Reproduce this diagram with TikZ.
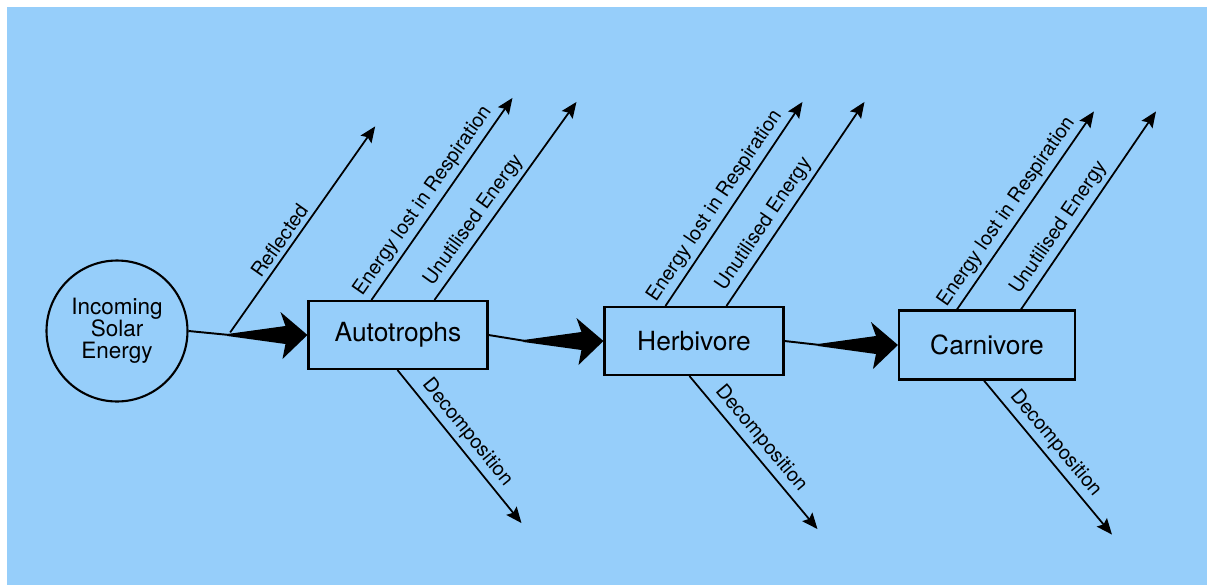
\documentclass[tikz,border=0pt]{standalone}
\usepackage{fontspec}
\setmainfont{TeX Gyre Heros}
\usetikzlibrary{calc,arrows.meta}
\definecolor{skyblue}{HTML}{96CEFA}

\tikzset{
  trophic/.style={draw, line width=1.2pt, minimum width=3.58cm, minimum height=1.36cm,
    font=\fontsize{15}{17}\selectfont},
  lossarrow/.style={line width=1pt, -{Stealth[length=9pt,width=7.5pt,inset=1.5pt]}},
  losslabel/.style={sloped, above, inner sep=2.5pt, font=\fontsize{11.3}{13}\selectfont},
}

% thin line that swells into a fat arrow head at the target
\newcommand{\fatarrow}[2]{%
  \draw[line width=1.1pt] (#1) -- ($(#2)+(-78,0)$);
  \fill ($(#2)+(-80,-1)$) -- ($(#2)+(-22,-9)$) -- ($(#2)+(-27,-23)$) -- (#2)
    -- ($(#2)+(-25,24)$) -- ($(#2)+(-22,9)$) -- ($(#2)+(-80,1)$) -- cycle;
}

\begin{document}
\begin{tikzpicture}[x=0.02cm, y=-0.02cm]
    \fill[white] (0,0) rectangle (1211,585);
    \fill[skyblue] (7,7) rectangle (1207,585);
    \useasboundingbox (0,0) rectangle (1211,585);

    \node[draw, circle, line width=1.2pt, minimum size=2.82cm, align=center,
      font=\fontsize{12.8}{12.5}\selectfont] (sun) at (117,331) {Incoming\\Solar\\Energy};
    \node[trophic] (auto) at (398,335) {Autotrophs};
    \node[trophic] (herb) at (694,341) {Herbivore};
    \node[trophic, minimum width=3.52cm, minimum height=1.38cm] (carn) at (987,345) {Carnivore};

    % main flow
    \fatarrow{sun.east}{auto.west}
    \fatarrow{auto.east}{herb.west}
    \fatarrow{herb.east}{carn.west}

    % reflected light
    \draw[lossarrow] ($(sun.east)!0.35!(auto.west)$) -- +(145,-206)
      node[losslabel, pos=0.41] {Reflected};

    % losses at each level
    \draw[lossarrow] ($(auto.north west)+(64,0)$) -- +(141,-202)
      node[losslabel, pos=0.45] {Energy lost in Respiration};
    \draw[lossarrow] ($(auto.north west)+(127,0)$) -- +(142,-198)
      node[losslabel, pos=0.36] {Unutilised Energy};
    \draw[lossarrow] ($(auto.south west)+(90,0)$) -- +(124,153)
      node[losslabel, pos=0.47] {Decomposition};

    \draw[lossarrow] ($(herb.north west)+(62,0)$) -- +(137,-204)
      node[losslabel, pos=0.45] {Energy lost in Respiration};
    \draw[lossarrow] ($(herb.north west)+(123,0)$) -- +(138,-204)
      node[losslabel, pos=0.36] {Unutilised Energy};
    \draw[lossarrow] ($(herb.south west)+(86,0)$) -- +(128,153)
      node[losslabel, pos=0.47] {Decomposition};

    \draw[lossarrow] ($(carn.north west)+(59,0)$) -- +(137,-198)
      node[losslabel, pos=0.45] {Energy lost in Respiration};
    \draw[lossarrow] ($(carn.north west)+(123,0)$) -- +(135,-198)
      node[losslabel, pos=0.37] {Unutilised Energy};
    \draw[lossarrow] ($(carn.south west)+(86,0)$) -- +(128,154)
      node[losslabel, pos=0.47] {Decomposition};
\end{tikzpicture}
\end{document}
